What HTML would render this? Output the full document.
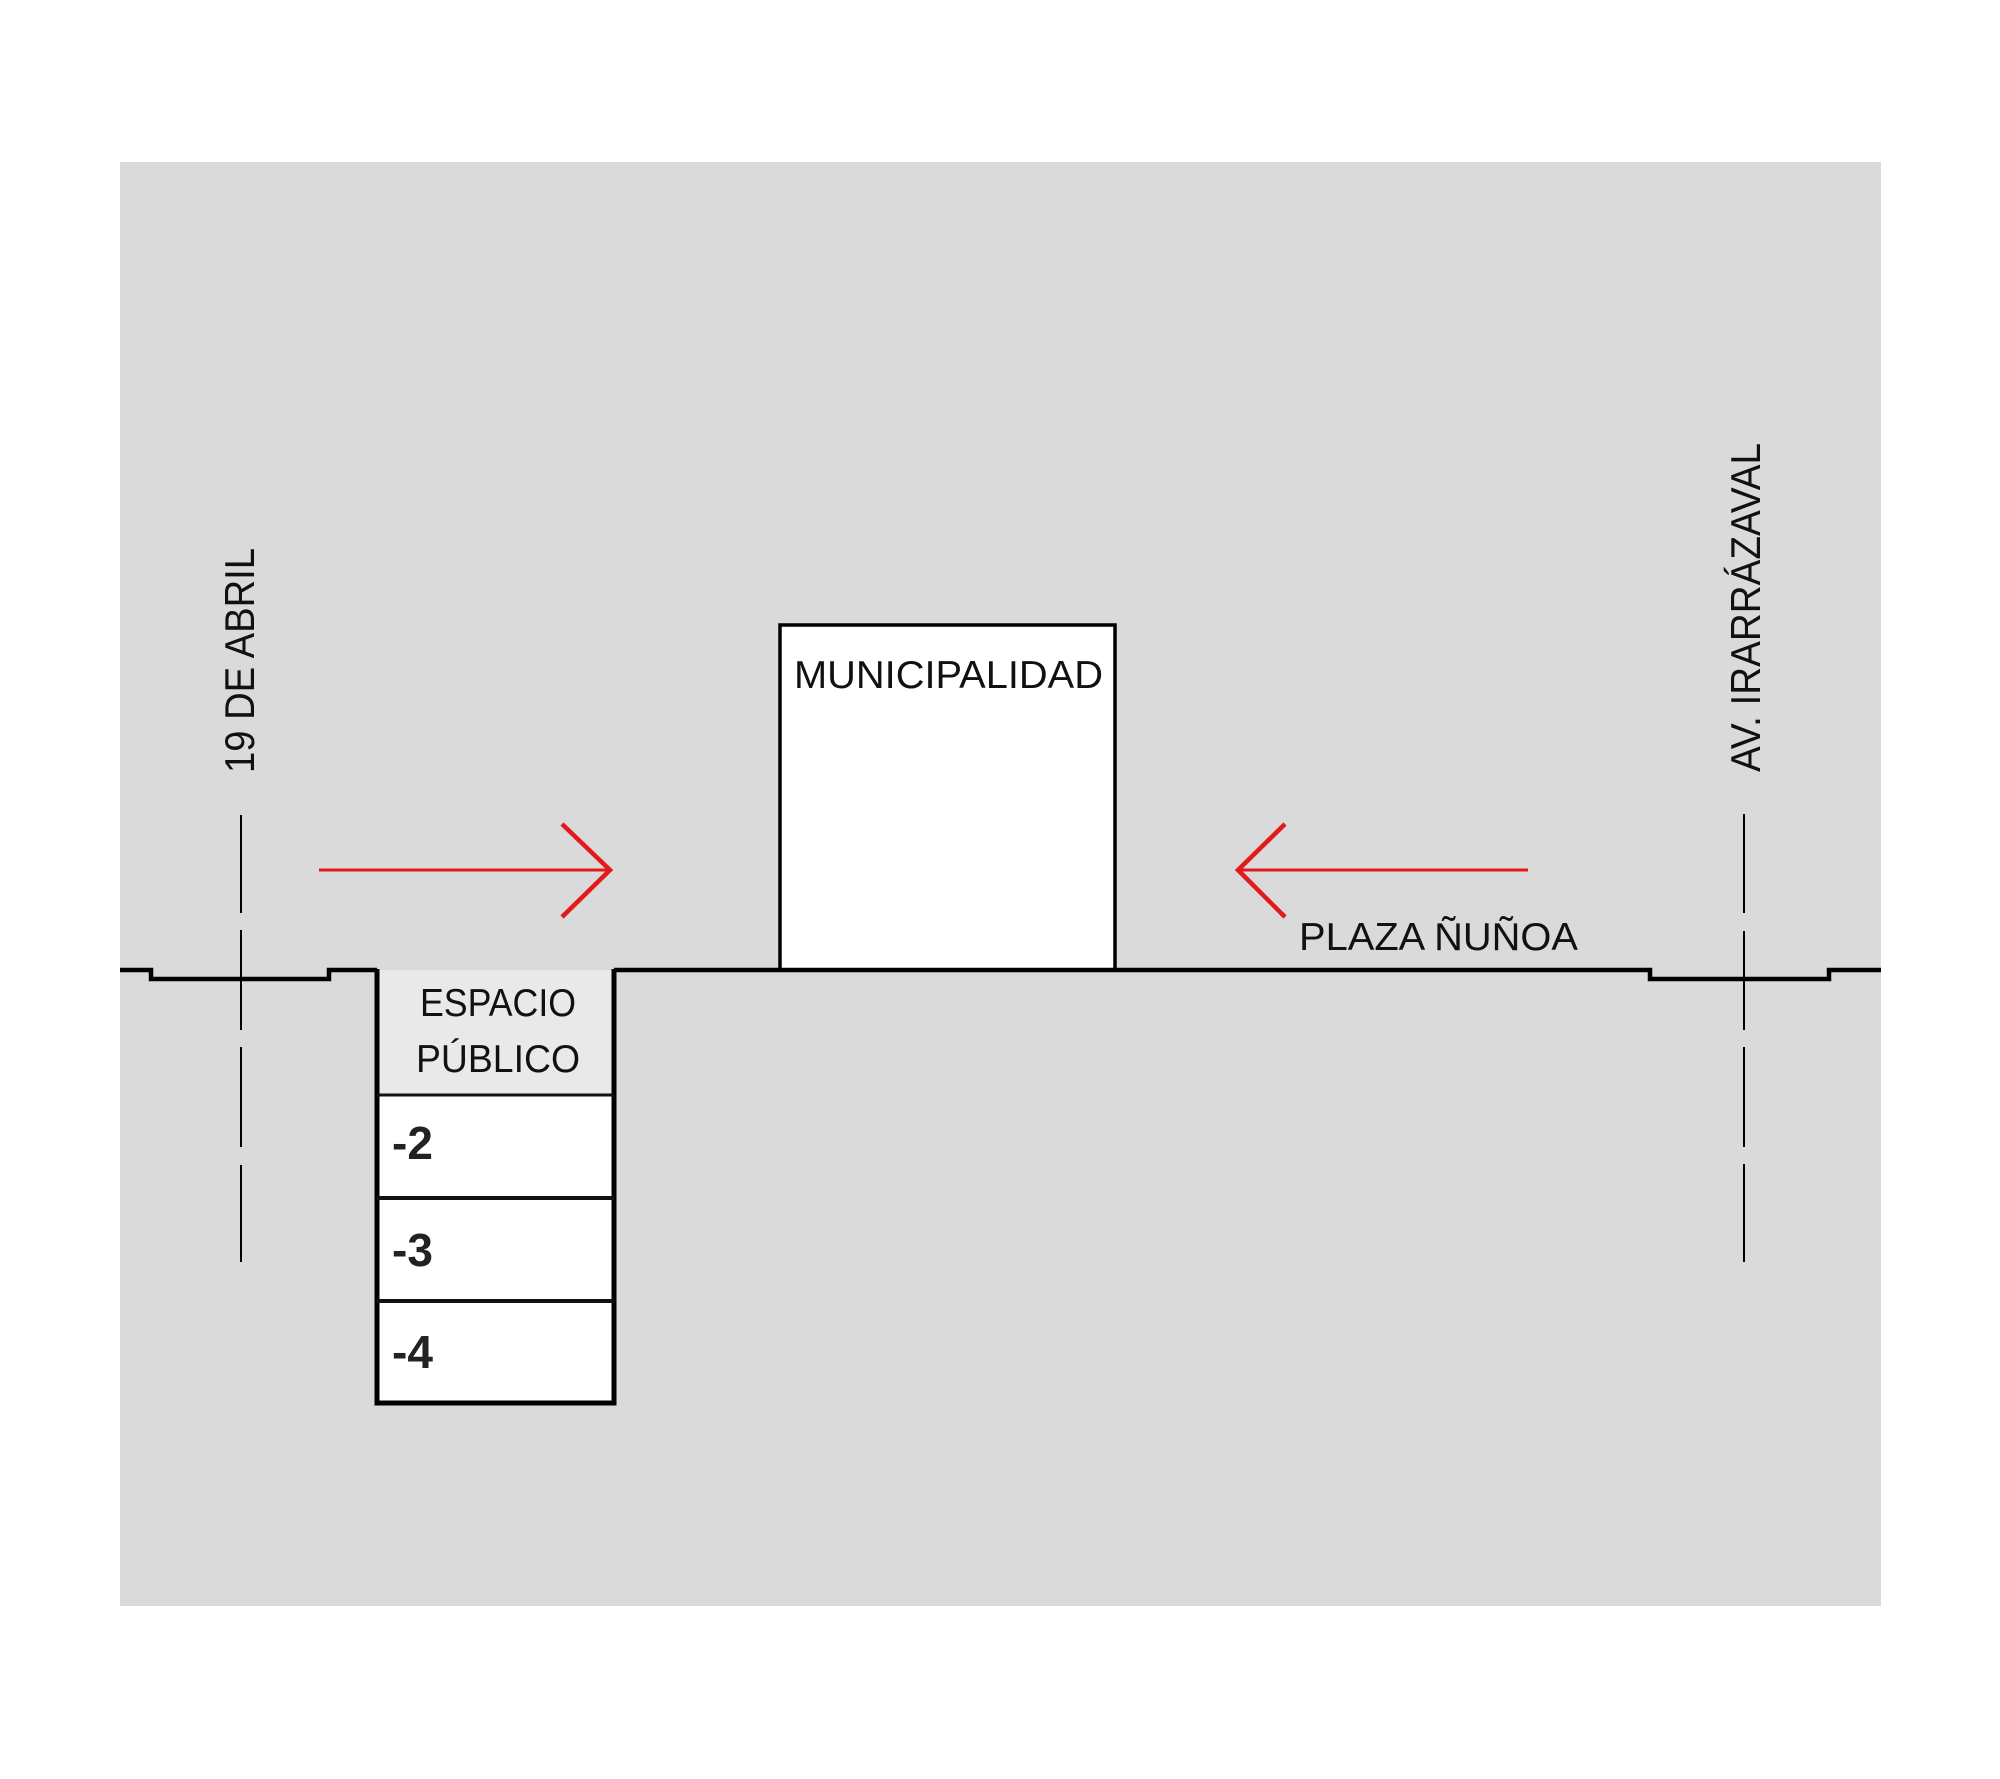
<!DOCTYPE html>
<html><head><meta charset="utf-8"><style>
html,body{margin:0;padding:0;background:#fff}
svg{display:block}
</style></head><body>
<svg width="2000" height="1779" viewBox="0 0 2000 1779" xmlns="http://www.w3.org/2000/svg">
<rect x="120" y="162" width="1761" height="1444" fill="#dadada"/>
<!-- Municipalidad -->
<rect x="780" y="625" width="335" height="345" fill="#fff" stroke="#000" stroke-width="3.5"/>
<text x="794" y="688" font-family="Liberation Sans, sans-serif" font-size="39" textLength="309" lengthAdjust="spacingAndGlyphs" fill="#111">MUNICIPALIDAD</text>
<!-- Espacio publico box -->
<rect x="377" y="970" width="237" height="124" fill="#e9e9e9"/>
<rect x="377" y="1094" width="237" height="309" fill="#fff"/>
<path d="M377 969 V1403 H614 V969" fill="none" stroke="#000" stroke-width="5"/>
<line x1="377" y1="1095" x2="614" y2="1095" stroke="#111" stroke-width="3"/>
<line x1="377" y1="1198" x2="614" y2="1198" stroke="#111" stroke-width="4"/>
<line x1="377" y1="1301" x2="614" y2="1301" stroke="#111" stroke-width="4"/>
<text x="498" y="1016" text-anchor="middle" font-family="Liberation Sans, sans-serif" font-size="39" textLength="156" lengthAdjust="spacingAndGlyphs" fill="#111">ESPACIO</text>
<text x="498" y="1072" text-anchor="middle" font-family="Liberation Sans, sans-serif" font-size="39" textLength="164" lengthAdjust="spacingAndGlyphs" fill="#111">PÚBLICO</text>
<text x="392" y="1159" font-family="Liberation Sans, sans-serif" font-weight="bold" font-size="46" fill="#222">-2</text>
<text x="392" y="1266" font-family="Liberation Sans, sans-serif" font-weight="bold" font-size="46" fill="#222">-3</text>
<text x="392" y="1368" font-family="Liberation Sans, sans-serif" font-weight="bold" font-size="46" fill="#222">-4</text>
<!-- ground line -->
<path d="M120 970 H151 V979 H329 V970 H377 M614 970 H1650 V979 H1829 V970 H1881" fill="none" stroke="#000" stroke-width="4.5"/>
<!-- dashed axes -->
<g stroke="#000" stroke-width="2">
<line x1="241" y1="815" x2="241" y2="913"/><line x1="241" y1="930" x2="241" y2="1030"/><line x1="241" y1="1047" x2="241" y2="1147"/><line x1="241" y1="1165" x2="241" y2="1262"/>
<line x1="1744" y1="814" x2="1744" y2="913"/><line x1="1744" y1="931" x2="1744" y2="1030"/><line x1="1744" y1="1047" x2="1744" y2="1147"/><line x1="1744" y1="1164" x2="1744" y2="1262"/>
</g>
<!-- arrows -->
<g stroke="#e3191b" fill="none">
<line x1="319" y1="870" x2="610" y2="870" stroke-width="3"/>
<path d="M562 824 L610 870 L562 917" stroke-width="4.5"/>
<line x1="1240" y1="870" x2="1528" y2="870" stroke-width="3"/>
<path d="M1285 824 L1238 870 L1285 917" stroke-width="4.5"/>
</g>
<text x="1299" y="950" font-family="Liberation Sans, sans-serif" font-size="39" textLength="279" lengthAdjust="spacingAndGlyphs" fill="#111">PLAZA ÑUÑOA</text>
<!-- rotated street labels -->
<text transform="translate(254,773) rotate(-90)" font-family="Liberation Sans, sans-serif" font-size="42" textLength="225" lengthAdjust="spacingAndGlyphs" fill="#111">19 DE ABRIL</text>
<text transform="translate(1760,772) rotate(-90)" font-family="Liberation Sans, sans-serif" font-size="42" textLength="329" lengthAdjust="spacingAndGlyphs" fill="#111">AV. IRARRÁZAVAL</text>
</svg>
</body></html>
